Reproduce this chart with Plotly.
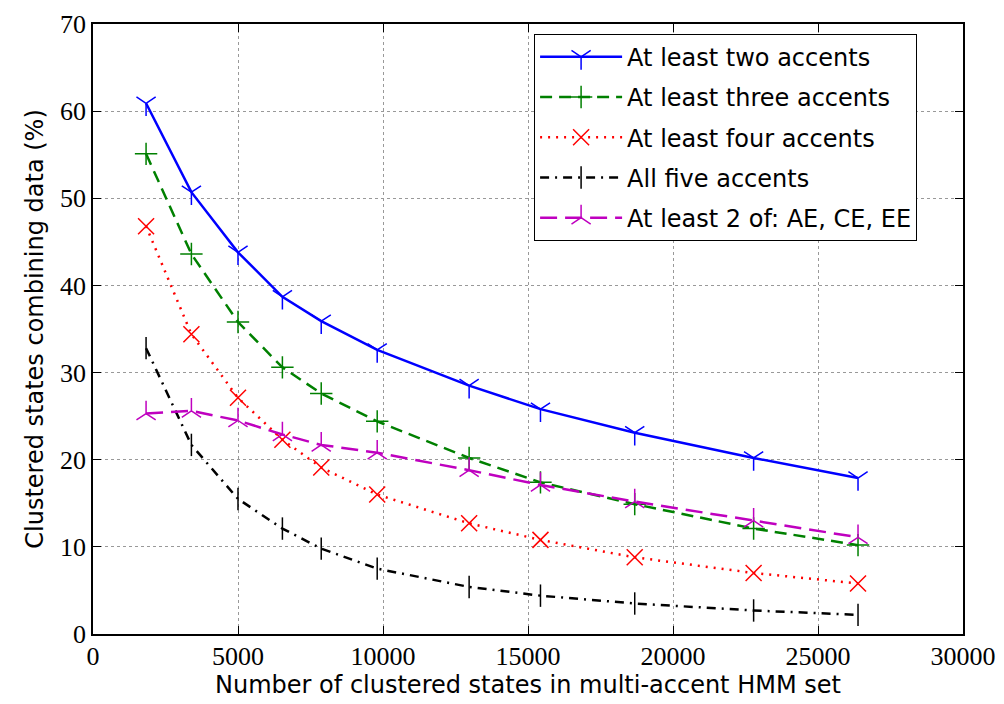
import plotly.graph_objects as go

x_states = [1830, 3393, 5000, 6531, 7870, 9800, 12970, 15430, 18680, 22780, 26380]
two_plus = [60.9, 50.7, 43.8, 38.7, 35.9, 32.6, 28.5, 25.8, 23.1, 20.2, 17.9]
three_plus = [55.1, 43.6, 35.8, 30.6, 27.6, 24.4, 20.2, 17.4, 14.9, 12.1, 10.2]
four_plus = [46.8, 34.4, 27.1, 22.3, 19.1, 16.0, 12.7, 10.8, 8.8, 7.0, 5.8]
all_five = [32.8, 21.7, 15.5, 12.1, 9.8, 7.5, 5.4, 4.4, 3.5, 2.7, 2.2]
ae_ce_ee = [25.3, 25.6, 24.5, 22.9, 21.7, 20.8, 18.8, 17.1, 15.2, 13.0, 11.1]

series = [
    ("At least two accents", two_plus, "#0000ff", "solid", "y-down-open"),
    ("At least three accents", three_plus, "#008000", "12px,7px", "cross-thin-open"),
    ("At least four accents", four_plus, "#ff0000", "2px,6px", "x-thin-open"),
    ("All five accents", all_five, "#000000", "9px,6px,2px,6px", "line-ns-open"),
    ("At least 2 of: AE, CE, EE", ae_ce_ee, "#bf00bf", "17px,8px", "y-up-open"),
]

fig = go.Figure()
for i, (name, ys, col, dash, sym) in enumerate(series):
    fig.add_trace(go.Scatter(
        x=x_states, y=ys, name=name, mode="lines+markers", legendgroup=f"g{i}",
        line=dict(color=col, width=2.5, dash=dash),
        marker=dict(symbol=sym, size=16, color=col, line=dict(color=col, width=1.5)),
    ))

tick_font = dict(family="Liberation Serif, DejaVu Serif, serif", size=26, color="black")
label_font = dict(family="DejaVu Sans, sans-serif", size=24, color="black")

fig.update_layout(
    width=1004, height=704,
    margin=dict(l=85, r=49, t=16, b=78),
    paper_bgcolor="white", plot_bgcolor="white",
    showlegend=True,
    legend=dict(
        x=0.507, y=0.984, xanchor="left", yanchor="top",
        bordercolor="black", borderwidth=1, bgcolor="white",
        font=dict(family="DejaVu Sans, sans-serif", size=24, color="black"),
        tracegroupgap=6, itemwidth=82,
    ),
)
fig.update_xaxes(
    range=[0, 30000], tickvals=[0, 5000, 10000, 15000, 20000, 25000, 30000],
    ticktext=["0", "5000", "10000", "15000", "20000", "25000", "30000"],
    showline=True, linecolor="black", linewidth=1.5, mirror="ticks",
    ticks="inside", ticklen=8, tickcolor="black", tickwidth=1.2,
    showgrid=True, gridcolor="#999999", griddash="dot", gridwidth=1,
    zeroline=False, tickfont=tick_font, automargin=False, ticklabelstandoff=-2,
    ticklabeloverflow="allow",
    title=dict(text="Number of clustered states in multi-accent HMM set", font=label_font, standoff=0),
)
fig.update_yaxes(
    range=[0, 70], tickvals=[0, 10, 20, 30, 40, 50, 60, 70],
    showline=True, linecolor="black", linewidth=1.5, mirror="ticks",
    ticks="inside", ticklen=8, tickcolor="black", tickwidth=1.2,
    showgrid=True, gridcolor="#999999", griddash="dot", gridwidth=1,
    zeroline=False, tickfont=tick_font, automargin=False, ticklabelstandoff=0,
    ticklabeloverflow="allow",
    title=dict(text="Clustered states combining data (%)", font=label_font, standoff=10),
)

fig.write_html("out.html")
